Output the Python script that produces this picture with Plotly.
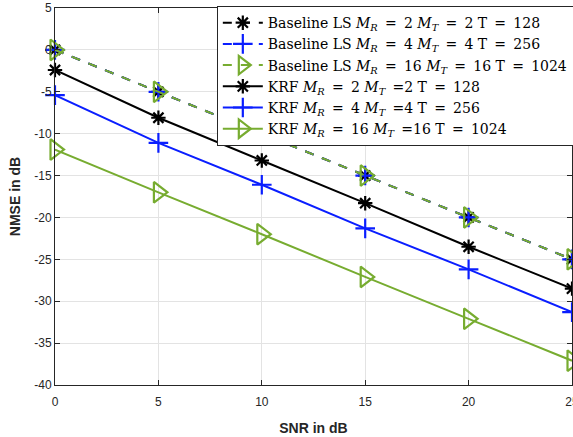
import plotly.graph_objects as go

snr = [0, 5, 10, 15, 20, 25]

ls_m2 = [0.0, -5.0, -10.0, -15.0, -20.0, -25.0]
ls_m4 = [0.0, -5.0, -10.0, -15.0, -20.0, -25.0]
ls_m16 = [0.0, -5.0, -10.0, -15.0, -20.0, -25.0]
krf_m2 = [-2.4, -8.1, -13.2, -18.3, -23.5, -28.5]
krf_m4 = [-5.4, -11.1, -16.1, -21.3, -26.2, -31.3]
krf_m16 = [-11.9, -17.0, -22.0, -27.1, -32.1, -37.1]

y_ticks = [5, 0, -5, -10, -15, -20, -25, -30, -35, -40]
y_tick_labels = ["5", "0", "-5", "-10", "-15", "-20", "-25", "-30", "-35", "-40"]
x_ticks = [0, 5, 10, 15, 20, 25]

MR = "<i>M</i><sub><i>R</i></sub>"
MT = "<i>M</i><sub><i>T</i></sub>"
EQ = " \u2009=\u2009 "
EQ2 = " \u2009="
names = [
    f"Baseline LS {MR}{EQ}2 {MT}{EQ}2 T{EQ}128",
    f"Baseline LS {MR}{EQ}4 {MT}{EQ}4 T{EQ}256",
    f"Baseline LS {MR}{EQ}16 {MT}{EQ}16 T{EQ}1024",
    f"KRF {MR}{EQ}2 {MT}{EQ2}2 T{EQ}128",
    f"KRF {MR}{EQ}4 {MT}{EQ2}4 T{EQ}256",
    f"KRF {MR}{EQ}16 {MT}{EQ2}16 T{EQ}1024",
]

BLACK = "#000000"
BLUE = "#0a1eff"
GREEN = "#77ac30"

series = [
    (ls_m2, names[0], BLACK, "dash", "asterisk-open", 12),
    (ls_m4, names[1], BLUE, "dash", "cross-thin-open", 14),
    (ls_m16, names[2], GREEN, "dash", "triangle-right-open", 18),
    (krf_m2, names[3], BLACK, "solid", "asterisk-open", 12),
    (krf_m4, names[4], BLUE, "solid", "cross-thin-open", 14),
    (krf_m16, names[5], GREEN, "solid", "triangle-right-open", 18),
]

fig = go.Figure()
for y, name, color, dash, sym, size in series:
    fig.add_trace(go.Scatter(
        x=snr, y=y, name=name, mode="lines+markers",
        line=dict(color=color, width=2, dash=dash),
        marker=dict(symbol=sym, size=size, color=color,
                    line=dict(color=color, width=2.2)),
        cliponaxis=False,
    ))

axis_common = dict(
    showline=True, linecolor="#262626", linewidth=1, mirror="ticks",
    ticks="inside", ticklen=5, tickcolor="#262626",
    showgrid=True, gridcolor="#e3e3e3", gridwidth=1, zeroline=False,
    tickfont=dict(family="Liberation Sans, Arial", size=12, color="#262626"),
    automargin=False, ticklabeloverflow="allow",
)

fig.update_layout(
    template="none",
    width=573, height=437,
    margin=dict(l=55, r=1, t=8, b=52, autoexpand=False),
    paper_bgcolor="white", plot_bgcolor="white",
    xaxis=dict(range=[0, 25], tickvals=x_ticks, ticklabelstandoff=6,
               title=dict(text="<b>SNR in dB</b>", standoff=14,
                          font=dict(family="Liberation Sans, Arial", size=14, color="#262626")),
               **axis_common),
    yaxis=dict(range=[-40, 5], tickvals=y_ticks, ticktext=y_tick_labels,
               title=dict(text="<b>NMSE in dB</b>", standoff=10,
                          font=dict(family="Liberation Sans, Arial", size=14, color="#262626")),
               **axis_common),
    legend=dict(x=0.313, y=1.005, xanchor="left", yanchor="top",
                bgcolor="white", bordercolor="#262626", borderwidth=1,
                font=dict(family="DejaVu Serif, serif", size=14, color="black"),
                itemwidth=40, tracegroupgap=0),
    showlegend=True,
)

fig.write_html("out.html", config={"displayModeBar": False},
               post_script="document.body.style.margin='0';")
